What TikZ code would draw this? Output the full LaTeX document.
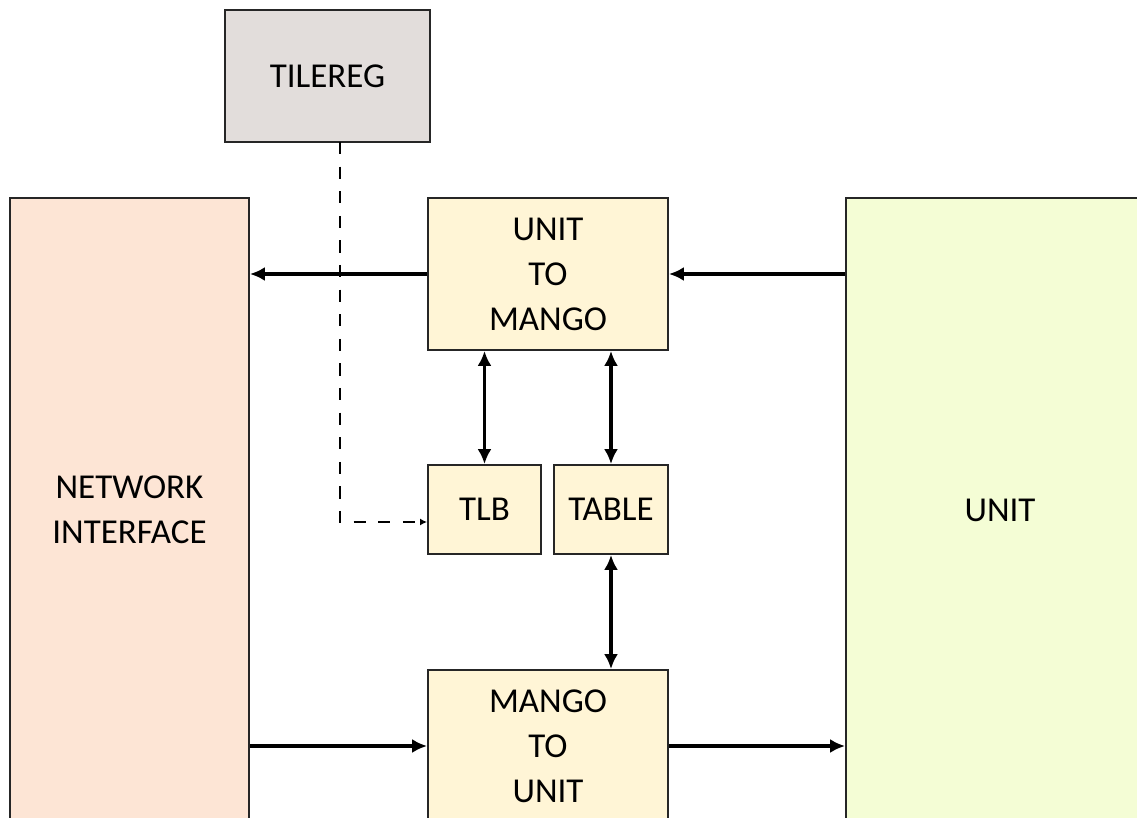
\documentclass[tikz,border=0pt]{standalone}
\usepackage{fontspec}
\setmainfont{Carlito}
\usetikzlibrary{arrows.meta}

\definecolor{regfill}{HTML}{E2DDDB}
\definecolor{nifill}{HTML}{FDE5D5}
\definecolor{unitfill}{HTML}{F4FDD5}
\definecolor{blockfill}{HTML}{FFF5D6}

\tikzset{
    block/.style={draw=black!85, line width=1.1pt, rectangle, align=center, inner sep=0pt,
        font=\fontsize{19.9}{25.6}\selectfont},
    bus/.style={line width=2.2pt, -{Latex[length=8.5pt,width=8pt]}},
    dbus/.style={line width=2.2pt, {Latex[length=8.5pt,width=8pt]}-{Latex[length=8.5pt,width=8pt]}},
    ctrl/.style={line width=0.9pt, dash pattern=on 7pt off 7pt, -{Latex[length=4pt,width=4pt]}}
}

\begin{document}
\begin{tikzpicture}[x=0.02cm, y=-0.02cm]
    \useasboundingbox (0,0) rectangle (1137,818);
    \clip (0,0) rectangle (1137,818);
    % blocks
    \node[block, fill=regfill, minimum width=205*0.5691pt, minimum height=132*0.5691pt] (tilereg) at (327.5,76) {TILEREG};
    \node[block, fill=nifill, minimum width=239*0.5691pt, minimum height=624*0.5691pt] (ni) at (129.5,510) {NETWORK\\INTERFACE};
    \node[block, fill=unitfill, minimum width=308*0.5691pt, minimum height=624*0.5691pt] (unit) at (1000,510) {UNIT};
    \node[block, fill=blockfill, minimum width=240*0.5691pt, minimum height=152*0.5691pt] (utm) at (548,274) {UNIT\\TO\\MANGO};
    \node[block, fill=blockfill, minimum width=113*0.5691pt, minimum height=89*0.5691pt] (tlb) at (484.5,509.5) {TLB};
    \node[block, fill=blockfill, minimum width=114*0.5691pt, minimum height=89*0.5691pt] (table) at (611,509.5) {TABLE};
    \node[block, fill=blockfill, minimum width=240*0.5691pt, minimum height=152*0.5691pt] (mtu) at (548,746) {MANGO\\TO\\UNIT};
    % data paths
    \draw[bus] (utm.east -| unit.west) -- (utm.east);
    \draw[bus] (utm.west) -- (utm.west -| ni.east);
    \draw[bus] (mtu.west -| ni.east) -- (mtu.west);
    \draw[bus] (mtu.east) -- (mtu.east -| unit.west);
    \draw[dbus] (utm.south -| tlb.north) -- (tlb.north);
    \draw[dbus] (utm.south -| table.north) -- (table.north);
    \draw[dbus] (table.south) -- (table.south |- mtu.north);
    % config
    \coordinate (tap) at (340,142);
    \coordinate (bend) at (340,522);
    \draw[ctrl] (tap) -- (bend) -- (bend -| tlb.west);
\end{tikzpicture}
\end{document}
